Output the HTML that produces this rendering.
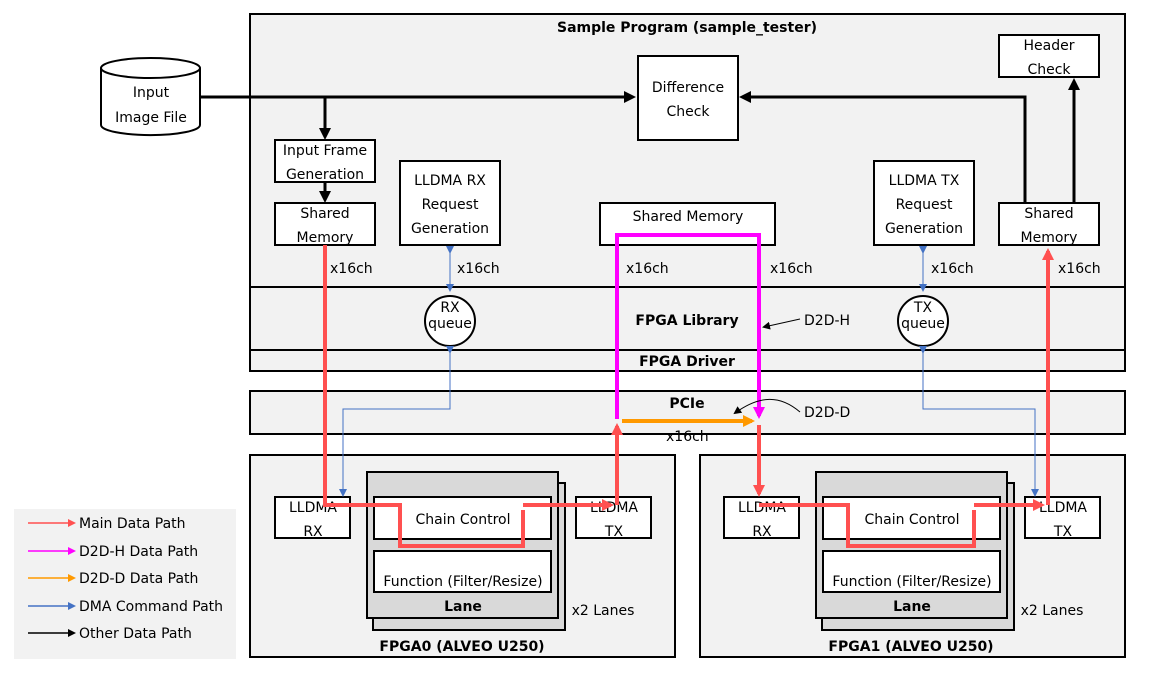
<!DOCTYPE html>
<html><head><style>
body{margin:0;background:#fff;}
svg{display:block;font-family:"DejaVu Sans","Liberation Sans",sans-serif;}
</style></head><body>
<svg width="1150" height="673" viewBox="0 0 1150 673" xmlns="http://www.w3.org/2000/svg">
<defs>
<marker id="ak" markerWidth="8" markerHeight="8" refX="6" refY="4" orient="auto" markerUnits="userSpaceOnUse"><path d="M0,0 L8,4 L0,8z" fill="#000"/></marker>
<marker id="akb" markerWidth="12" markerHeight="12" refX="9" refY="6" orient="auto" markerUnits="userSpaceOnUse"><path d="M0,0 L12,6 L0,12z" fill="#000"/></marker>
<marker id="ar" markerWidth="12" markerHeight="12" refX="9" refY="6" orient="auto" markerUnits="userSpaceOnUse"><path d="M0,0 L12,6 L0,12z" fill="#ff5050"/></marker>
<marker id="am" markerWidth="12" markerHeight="12" refX="9" refY="6" orient="auto" markerUnits="userSpaceOnUse"><path d="M0,0 L12,6 L0,12z" fill="#ff00ff"/></marker>
<marker id="ao" markerWidth="12" markerHeight="12" refX="9" refY="6" orient="auto" markerUnits="userSpaceOnUse"><path d="M0,0 L12,6 L0,12z" fill="#ff9900"/></marker>
<marker id="ab" markerWidth="8" markerHeight="8" refX="6" refY="4" orient="auto" markerUnits="userSpaceOnUse"><path d="M0,0 L8,4 L0,8z" fill="#4472c4"/></marker>
</defs>
<g stroke="#000" stroke-width="2" fill="#f2f2f2">
<rect x="250" y="14" width="875" height="357"/>
<line x1="250" y1="287" x2="1125" y2="287"/>
<line x1="250" y1="350" x2="1125" y2="350"/>
<rect x="250" y="391" width="875" height="43"/>
<rect x="250" y="455" width="425" height="202"/>
<rect x="700" y="455" width="425" height="202"/>
</g>
<rect x="14" y="509" width="222" height="150" fill="#f2f2f2"/>
<g font-size="14" font-weight="bold" text-anchor="middle" fill="#000">
<text x="687" y="32">Sample Program (sample_tester)</text>
<text x="687" y="325">FPGA Library</text>
<text x="687" y="366">FPGA Driver</text>
<text x="687" y="408">PCIe</text>
<text x="462" y="651">FPGA0 (ALVEO U250)</text>
<text x="911" y="651">FPGA1 (ALVEO U250)</text>
</g>
<g stroke="#000" stroke-width="2" fill="#fff">
<path d="M101,68 L101,125 A49,10 0 0 0 200,125 L200,68"/>
<ellipse cx="150.5" cy="68" rx="49.5" ry="10"/>
<rect x="638" y="56" width="100" height="84"/>
<rect x="999" y="35" width="100" height="42"/>
<rect x="275" y="140" width="100" height="42"/>
<rect x="275" y="203" width="100" height="42"/>
<rect x="400" y="161" width="100" height="84"/>
<rect x="600" y="203" width="175" height="42"/>
<rect x="874" y="161" width="100" height="84"/>
<rect x="999" y="203" width="100" height="42"/>
<circle cx="450" cy="321" r="25"/>
<circle cx="923" cy="321" r="25"/>
</g>
<g font-size="14" text-anchor="middle" fill="#000">
<text x="151" y="97">Input</text><text x="151" y="122">Image File</text>
<text x="688" y="92">Difference</text><text x="688" y="116">Check</text>
<text x="1049" y="50">Header</text><text x="1049" y="74">Check</text>
<text x="325" y="155">Input Frame</text><text x="325" y="179">Generation</text>
<text x="325" y="218">Shared</text><text x="325" y="242">Memory</text>
<text x="450" y="185">LLDMA RX</text><text x="450" y="209">Request</text><text x="450" y="233">Generation</text>
<text x="688" y="221">Shared Memory</text>
<text x="924" y="185">LLDMA TX</text><text x="924" y="209">Request</text><text x="924" y="233">Generation</text>
<text x="1049" y="218">Shared</text><text x="1049" y="242">Memory</text>
<text x="450" y="312">RX</text><text x="450" y="328">queue</text>
<text x="923" y="312">TX</text><text x="923" y="328">queue</text>
</g>
<g id="f0">
<g stroke="#000" stroke-width="2">
<rect x="373" y="483" width="192" height="147" fill="#d9d9d9"/>
<rect x="367" y="472" width="191" height="146" fill="#d9d9d9"/>
<rect x="374" y="497" width="177" height="42" fill="#fff"/>
<rect x="374" y="551" width="177" height="41" fill="#fff"/>
<rect x="275" y="497" width="75" height="41" fill="#fff"/>
<rect x="576" y="497" width="75" height="41" fill="#fff"/>
</g>
<g font-size="14" text-anchor="middle" fill="#000">
<text x="463" y="524">Chain Control</text>
<text x="463" y="586">Function (Filter/Resize)</text>
<text x="463" y="611" font-weight="bold">Lane</text>
<text x="313" y="512">LLDMA</text><text x="313" y="536">RX</text>
<text x="614" y="512">LLDMA</text><text x="614" y="536">TX</text>
<text x="603" y="615">x2 Lanes</text>
</g>
</g>
<use href="#f0" transform="translate(449,0)"/>
<g stroke="#000" stroke-width="3" fill="none">
<polyline points="200,97 633,97" marker-end="url(#akb)"/>
<polyline points="325,97 325,137" marker-end="url(#akb)"/>
<polyline points="325,182 325,200" marker-end="url(#akb)"/>
<polyline points="1025,203 1025,97 742,97" marker-end="url(#akb)"/>
<polyline points="1074,203 1074,81" marker-end="url(#akb)"/>
</g>
<g stroke="#4472c4" stroke-width="1" fill="none">
<line x1="450" y1="252" x2="450" y2="290" marker-end="url(#ab)" marker-start="url(#ab)"/>
<line x1="923" y1="252" x2="923" y2="290" marker-end="url(#ab)" marker-start="url(#ab)"/>
<polyline points="450,352 450,409 343,409 343,495" marker-end="url(#ab)" marker-start="url(#ab)"/>
<polyline points="923,352 923,409 1035,409 1035,495" marker-end="url(#ab)" marker-start="url(#ab)"/>
</g>
<g stroke="#ff5050" stroke-width="4" fill="none">
<polyline points="325,245 325,505 400,505 400,546 523,546 523,510"/>
<polyline points="523,505 611,505" marker-end="url(#ar)"/>
<polyline points="617,505 617,426" marker-end="url(#ar)"/>
<polyline points="759,425 759,494" marker-end="url(#ar)"/>
<polyline points="759,505 848,505 848,546 974,546 974,510"/>
<polyline points="974,505 1042,505" marker-end="url(#ar)"/>
<polyline points="1048,505 1048,251" marker-end="url(#ar)"/>
</g>
<polyline points="617,419 617,235 759,235 759,416" stroke="#ff00ff" stroke-width="4" fill="none" marker-end="url(#am)"/>
<line x1="622" y1="421" x2="752" y2="421" stroke="#ff9900" stroke-width="4" marker-end="url(#ao)"/>
<g stroke="#000" stroke-width="1" fill="none">
<line x1="800" y1="319" x2="764" y2="327" marker-end="url(#ak)"/>
<path d="M800,412 C780,395 760,395 735,413" marker-end="url(#ak)"/>
</g>
<g font-size="14" fill="#000">
<text x="330" y="273">x16ch</text><text x="457" y="273">x16ch</text>
<text x="626" y="273">x16ch</text><text x="770" y="273">x16ch</text>
<text x="931" y="273">x16ch</text><text x="1058" y="273">x16ch</text>
<text x="666" y="441">x16ch</text>
<text x="804" y="325">D2D-H</text><text x="804" y="417">D2D-D</text>
</g>
<g stroke-width="1.5">
<line x1="28" y1="523" x2="70" y2="523" stroke="#ff5050"/>
<line x1="28" y1="551" x2="70" y2="551" stroke="#ff00ff"/>
<line x1="28" y1="578" x2="70" y2="578" stroke="#ff9900"/>
<line x1="28" y1="606" x2="70" y2="606" stroke="#4472c4"/>
<line x1="28" y1="633" x2="70" y2="633" stroke="#000"/>
</g>
<g>
<path d="M68,519 L76,523 L68,527z" fill="#ff5050"/>
<path d="M68,547 L76,551 L68,555z" fill="#ff00ff"/>
<path d="M68,574 L76,578 L68,582z" fill="#ff9900"/>
<path d="M68,602 L76,606 L68,610z" fill="#4472c4"/>
<path d="M68,629 L76,633 L68,637z" fill="#000"/>
</g>
<g font-size="14" fill="#000">
<text x="79" y="528">Main Data Path</text>
<text x="79" y="556">D2D-H Data Path</text>
<text x="79" y="583">D2D-D Data Path</text>
<text x="79" y="611">DMA Command Path</text>
<text x="79" y="638">Other Data Path</text>
</g>
</svg>
</body></html>
